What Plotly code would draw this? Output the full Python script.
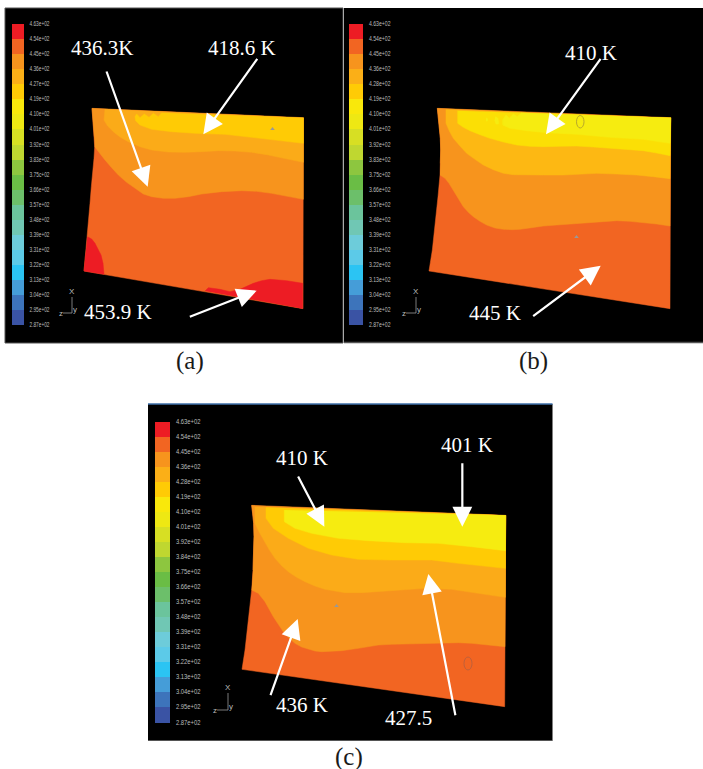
import json
import plotly.graph_objects as go

BAND_COLORS = ["#ED1C24","#F26522","#F7941D","#FBAF17","#FFCB05","#F9E80B","#EEE813","#D7DF23","#BFD730","#8DC63F",
               "#6ABD45","#6CBF6A","#6BC49C","#70C7B4","#6DCCDA","#5CCAE8","#2BC4F3","#459DD8","#3D74BB","#3A53A4"]
LABELS_A = ["4.63e+02","4.54e+02","4.45e+02","4.36e+02","4.27e+02","4.19e+02","4.10e+02","4.01e+02","3.92e+02","3.83e+02",
            "3.75c+02","3.66e+02","3.57e+02","3.48e+02","3.39e+02","3.31e+02","3.22e+02","3.13e+02","3.04e+02","2.95e+02","2.87e+02"]
LABELS_B = ["4.63e+02","4.54e+02","4.45e+02","4.36e+02","4.28e+02","4.19e+02","4.10e+02","4.01e+02","3.92e+02","3.83e+02",
            "3.75c+02","3.66e+02","3.57e+02","3.48e+02","3.39e+02","3.31e+02","3.22e+02","3.13e+02","3.04e+02","2.95e+02","2.87e+02"]
LABELS_C = ["4.63e+02","4.54e+02","4.45e+02","4.36e+02","4.28e+02","4.19e+02","4.10e+02","4.01e+02","3.92e+02","3.84e+02",
            "3.75e+02","3.66e+02","3.57e+02","3.48e+02","3.39e+02","3.31e+02","3.22e+02","3.13e+02","3.04e+02","2.95e+02","2.87e+02"]

RED, OR1, OR2, OR3, OR3B, OR4, YE1, YE2 = "#ED1C24", "#F26522", "#F7941D", "#FBAB18", "#FDB813", "#FFCB05", "#FBDF05", "#F6EC10"

# Contour regions traced from each plate, as (colour, [(x, y), ...]) in 3x-zoomed units
REGIONS_A = [
    (OR1, [(21,25),(23,50),(25,70),(28,110),(29,140),(27,175),(23,210),(19,260),(15,310),(7,410),(-3,513),(654,626),(655,53)]),
    (RED, [(7,410),(20,417),(30,430),(40,447),(48,465),(54,490),(57,523),(-3,513),(2,460)]),
    (RED, [(360,573),(370,563),(405,568),(435,575),(465,568),(505,550),(530,542),(555,538),(605,542),(653,550),(653,626)]),
    (OR2, [(29,140),(42,158),(60,180),(80,203),(100,225),(125,247),(150,265),(175,282),(200,290),(235,295),(270,295),(310,290),(350,282),(410,275),(470,272),(515,274),(560,280),(610,289),(655,298),(655,53),(21,25),(23,50),(25,70),(28,110)]),
    (OR3, [(60,28),(57,60),(68,78),(85,95),(105,111),(130,125),(165,140),(200,150),(250,156),(300,157),(350,155),(400,152),(450,153),(500,157),(550,165),(600,175),(655,187),(655,53)]),
    (OR4, [(230,38),(220,50),(205,40),(192,52),(178,42),(165,53),(155,42),(150,50),(152,62),(165,75),(200,88),(260,95),(330,100),(420,103),(500,112),(580,122),(655,130),(655,53)]),
]
REGIONS_B = [
    (OR1, [(22,25),(25,50),(28,80),(31,115),(32,150),(31,190),(30,225),(24,290),(18,350),(7,450),(-3,513),(720,626),(722,53)]),
    (OR2, [(30,225),(45,235),(57,250),(70,270),(85,297),(100,320),(115,337),(130,350),(150,364),(170,375),(195,384),(220,388),(245,389),(270,388),(305,383),(340,378),(380,375),(420,372),(490,366),(560,362),(600,364),(640,367),(680,372),(720,378),(722,53),(22,25),(25,50),(28,80),(31,115),(32,150),(31,190)]),
    (OR3B, [(48,28),(48,70),(58,93),(70,115),(90,138),(110,160),(135,178),(160,195),(190,209),(220,220),(250,224),(280,225),(340,225),(400,225),(450,223),(500,220),(560,222),(620,225),(670,230),(720,236),(722,53)]),
    (YE1, [(83,32),(83,70),(100,82),(120,92),(150,104),(180,115),(220,126),(260,135),(300,139),(340,140),(390,139),(440,138),(490,141),(540,145),(590,148),(640,152),(680,159),(720,167),(722,53)]),
    (YE2, [(275,38),(262,50),(250,42),(238,55),(228,45),(218,60),(218,75),(240,85),(290,92),(350,98),(440,103),(540,112),(640,118),(720,130),(722,53)]),
    (YE2, [(196,50),(204,55),(206,72),(198,72),(194,60)]),
    (YE2, [(168,54),(173,56),(173,63),(168,63)]),
]
REGIONS_C = [
    (OR1, [(20,16),(23,40),(26,70),(27,110),(26,150),(24,210),(20,270),(14,330),(8,390),(0,450),(-9,508),(779,620),(782,46)]),
    (OR2, [(20,270),(40,280),(60,305),(72,327),(85,350),(100,373),(115,395),(132,414),(150,430),(170,441),(190,448),(210,453),(230,455),(260,454),(290,452),(340,445),(400,435),(440,433),(480,432),(540,429),(600,427),(640,428),(680,430),(730,435),(780,440),(782,46),(20,16),(23,40),(26,70),(27,110),(26,150),(24,210)]),
    (OR3, [(30,20),(30,70),(42,95),(55,120),(72,148),(90,175),(110,197),(130,215),(155,232),(180,245),(210,258),(240,268),(270,274),(300,278),(350,278),(430,272),(540,265),(620,268),(660,273),(700,280),(781,292),(782,46)]),
    (OR4, [(63,22),(63,55),(85,85),(130,115),(190,145),(260,165),(340,178),(440,180),(560,180),(640,190),(781,205),(782,46)]),
    (YE2, [(118,30),(118,65),(150,85),(200,100),(280,115),(370,122),(480,128),(580,130),(680,140),(781,152),(782,46)]),
]

# text, x, y, arrow tail x, tail y, arrow tip x, tip y (zoomed units)
CALLOUTS_A = [("436.3K",305,115,318,180,443,530),("418.6 K",727,115,775,142,610,373),("453.9 K",355,905,565,922,770,842)]
CALLOUTS_B = [("410 K",738,128,770,142,603,373),("445 K",450,908,560,922,767,767)]
CALLOUTS_C = [("410 K",485,188,472,240,553,395),("401 K",980,150,967,200,967,395),("436 K",485,930,390,905,473,672),
              ("427.5",806,968,947,965,865,537)]

P_A = dict(ox=0, oy=10, rox=85, roy=100, bar=(11.5,24), lab=29.5, labw=20, y0=24.2, step=15.04, labels=LABELS_A, regions=REGIONS_A, callouts=CALLOUTS_A)
P_B = dict(ox=345, oy=10, rox=430, roy=100, bar=(349,362.5), lab=369, labw=21.5, y0=24.2, step=15.04, labels=LABELS_B, regions=REGIONS_B, callouts=CALLOUTS_B)
P_C = dict(ox=140, oy=395, rox=245, roy=500, bar=(155,169.5), lab=176, labw=24.5, y0=421.5, step=15.05, labels=LABELS_C, regions=REGIONS_C, callouts=CALLOUTS_C)

TRIADS = [(72,313,9,16),(416,313,10,16),(228,710,11,17)]
CAPTIONS = [("(a)",190,361),("(b)",533,361),("(c)",349,757)]

fig = go.Figure()
shapes = [
    dict(type="rect", x0=5, x1=343, y0=8, y1=343, fillcolor="#000", line=dict(color="#555", width=1), layer="below"),
    dict(type="rect", x0=344, x1=703, y0=8, y1=342, fillcolor="#000", line=dict(width=0), layer="below"),
    dict(type="line", x0=344, x1=703, y0=342.5, y1=342.5, line=dict(color="#555", width=1.5), layer="below"),
    dict(type="rect", x0=148, x1=552.5, y0=404, y1=740.5, fillcolor="#000", line=dict(width=0), layer="below"),
    dict(type="line", x0=148, x1=552.5, y0=404, y1=404, line=dict(color="#3E6FA8", width=1.5), layer="below"),
    dict(type="line", x0=148, x1=552.5, y0=740.5, y1=740.5, line=dict(color="#555", width=1), layer="below"),
]
ann = []

for p in (P_A, P_B, P_C):
    ox, oy = p["ox"], p["oy"]
    for color, pts in p["regions"]:
        fig.add_trace(go.Scatter(x=[p["rox"] + a/3 for a, b in pts], y=[p["roy"] + b/3 for a, b in pts], mode="lines",
                                 fill="toself", fillcolor=color, line=dict(color=color, width=0.5), hoverinfo="skip"))
    n = len(BAND_COLORS)
    ys = [p["y0"] + i*p["step"] for i in range(n+1)]
    fig.add_trace(go.Bar(x=[(p["bar"][0]+p["bar"][1])/2]*n, y=[p["step"]]*n, base=ys[:-1], width=p["bar"][1]-p["bar"][0],
                         marker=dict(color=BAND_COLORS, line=dict(width=0)), hoverinfo="skip"))
    fig.add_trace(go.Scatter(x=[p["lab"]]*(n+1), y=ys, mode="text", text=p["labels"], textposition="middle right",
                             textfont=dict(family="Liberation Sans", size=8, color="#BDBDBD"), hoverinfo="skip"))
    for txt, tx, ty, x0, y0, x1, y1 in p["callouts"]:
        ann.append(dict(x=ox+x1/3, y=oy+y1/3, ax=ox+x0/3, ay=oy+y0/3, xref="x", yref="y", axref="x", ayref="y", text="",
                        showarrow=True, arrowhead=2, arrowsize=1.8, arrowwidth=2.2, arrowcolor="#fff", standoff=0))
        ann.append(dict(x=ox+tx/3, y=oy+ty/3, xref="x", yref="y", text=txt, showarrow=False,
                        font=dict(family="Liberation Serif", size=21, color="#fff")))

for x, y, lx, ly in TRIADS:
    fig.add_trace(go.Scatter(x=[x, x, x-lx], y=[y-ly, y, y], mode="lines", line=dict(color="#999", width=0.8), hoverinfo="skip"))
    for t, tx, ty in (("X", x, y-ly-6), ("y", x+3, y-4), ("z", x-lx-2.5, y)):
        ann.append(dict(x=tx, y=ty, xref="x", yref="y", text=t, showarrow=False,
                        font=dict(family="Liberation Sans", size=8, color="#bbb")))

for t, x, y in CAPTIONS:
    ann.append(dict(x=x, y=y, xref="x", yref="y", text=t, showarrow=False,
                    font=dict(family="Liberation Serif", size=25, color="#1a1a1a")))

# small probe circles and pointer marks seen in the plots
shapes += [
    dict(type="circle", x0=576.5, x1=584, y0=115.5, y1=128, line=dict(color="#B9A92A", width=1)),
    dict(type="circle", x0=464, x1=472, y0=657, y1=670, line=dict(color="#C0603A", width=1)),
]
fig.add_trace(go.Scatter(x=[272.5, 576.5, 336.5], y=[129, 237, 606], mode="markers",
                         marker=dict(symbol="triangle-up", size=4, color="#999"), hoverinfo="skip"))

fig.update_layout(width=703, height=769, margin=dict(l=0, r=0, t=0, b=0), showlegend=False, barmode="overlay",
                  paper_bgcolor="#fff", plot_bgcolor="#fff", shapes=shapes, annotations=ann, bargap=0,
                  xaxis=dict(range=[0, 703], visible=False, fixedrange=True),
                  yaxis=dict(range=[769, 0], visible=False, fixedrange=True))

LAB_WIDTHS = [P_A["labw"], P_B["labw"], P_C["labw"]]
post = ("document.body.style.margin='0';document.body.style.overflow='hidden';"
        "var w=" + json.dumps(LAB_WIDTHS) + ";"
        "document.querySelectorAll('.textpoint text').forEach(function(t,i){"
        "t.setAttribute('textLength',w[Math.floor(i/21)]);t.setAttribute('lengthAdjust','spacingAndGlyphs');});")
fig.write_html("out.html", config=dict(displayModeBar=False), post_script=post)
